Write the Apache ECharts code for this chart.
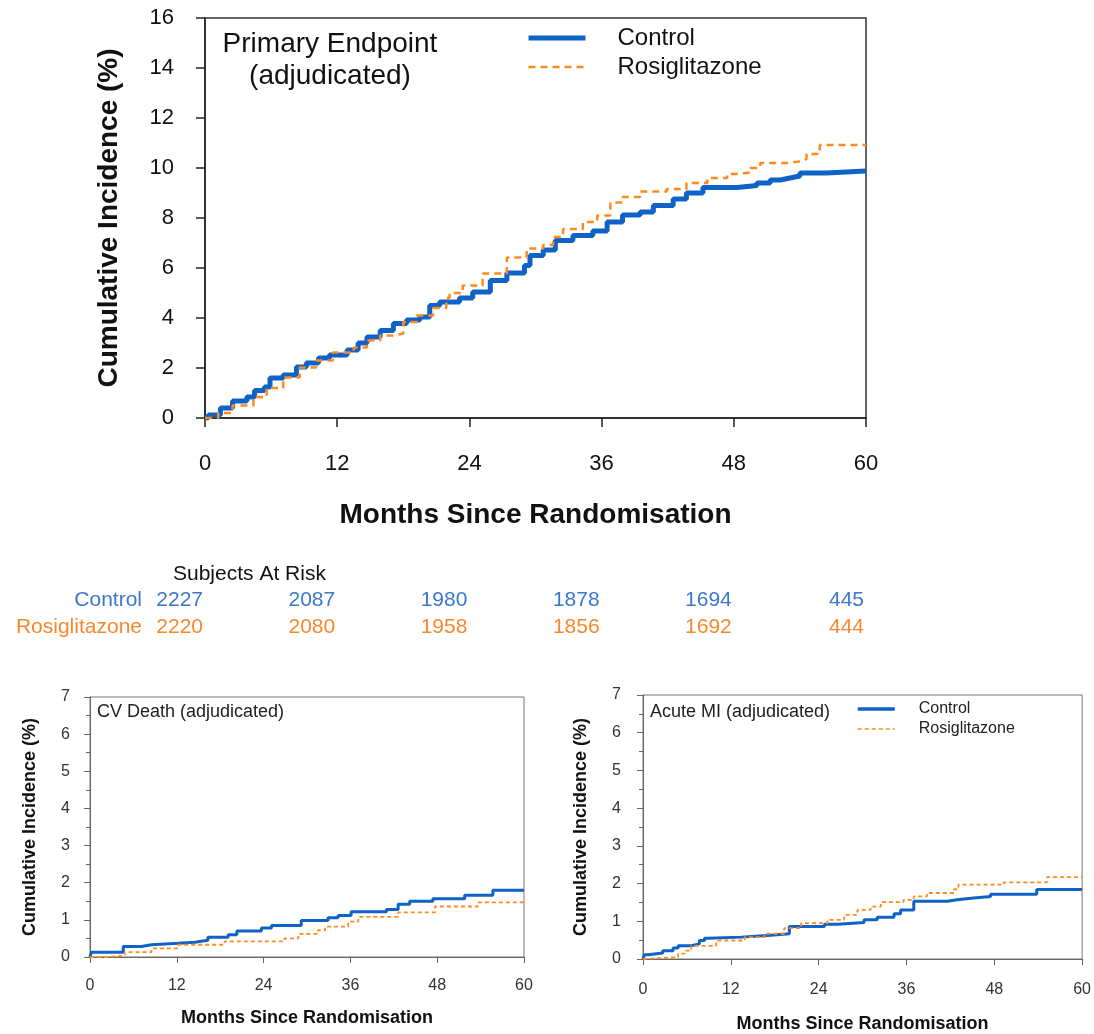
<!DOCTYPE html>
<html>
<head>
<meta charset="utf-8">
<script src="https://cdn.jsdelivr.net/npm/echarts@6/dist/echarts.min.js"></script>
<style>
  html, body { margin: 0; padding: 0; background: #fff; }
  #chart { width: 1094px; height: 1034px; }
</style>
</head>
<body>
<div id="chart"></div>
<script>
// Cumulative incidence curves (months since randomisation, % of subjects)
const monthTicks = [0, 12, 24, 36, 48, 60];

const controlPrimary = [
  [0, 0], [0.3, 0.12], [1.4, 0.4], [2.5, 0.68], [3.8, 0.84], [4.5, 1.1], [5.4, 1.24],
  [5.9, 1.6], [7.1, 1.72], [8.3, 2.04], [9.2, 2.2], [10.3, 2.4], [11.3, 2.52],
  [12.9, 2.72], [13.9, 3.0], [14.7, 3.24], [15.9, 3.5], [17.1, 3.78], [18.3, 3.92],
  [19.5, 4.04], [20.4, 4.5], [21.3, 4.64], [23.1, 4.8], [24.3, 5.04], [25.9, 5.5],
  [27.4, 5.8], [29.0, 6.1], [29.5, 6.5], [30.7, 6.72], [31.8, 7.1], [33.4, 7.3],
  [35.2, 7.48], [36.5, 7.84], [37.9, 8.12], [39.5, 8.24], [40.7, 8.5], [42.5, 8.76],
  [43.7, 9.0], [45.2, 9.22], [48.3, 9.3], [50.1, 9.4], [51.3, 9.52], [52.2, 9.6],
  [53.1, 9.68], [54.0, 9.8], [56.4, 9.88], [60, 9.88]
];
const rosiPrimary = [
  [0, 0], [1.2, 0.2], [2.5, 0.5], [4.4, 0.84], [5.6, 1.2], [7.1, 1.62], [8.6, 2.02],
  [10.1, 2.3], [11.6, 2.62], [13.5, 2.82], [14.7, 3.1], [15.9, 3.3], [17.1, 3.38],
  [18.0, 3.84], [19.2, 4.1], [20.7, 4.4], [21.9, 4.8], [22.2, 5.0], [23.4, 5.3],
  [25.2, 5.78], [27.4, 6.42], [29.2, 6.78], [30.7, 6.92], [31.6, 7.24], [32.5, 7.56],
  [34.3, 7.84], [35.6, 8.1], [36.8, 8.62], [37.9, 8.84], [39.5, 9.06], [41.9, 9.16],
  [43.7, 9.4], [45.6, 9.6], [47.4, 9.76], [48.5, 9.82], [49.5, 10.0], [50.4, 10.2],
  [52.8, 10.28], [54.3, 10.36], [54.6, 10.56], [55.6, 10.72], [55.8, 10.92], [60, 10.92]
];

const controlCVDeath = [
  [0, 0], [0.2, 0.13], [4.6, 0.28], [7.1, 0.33], [8.5, 0.37], [12.2, 0.4], [14.5, 0.45],
  [16.3, 0.53], [19.1, 0.6], [20.3, 0.7], [23.7, 0.78], [25.1, 0.85], [29.2, 0.98],
  [32.9, 1.06], [34.3, 1.12], [36.1, 1.22], [41.0, 1.28], [42.6, 1.42], [44.2, 1.5],
  [47.4, 1.57], [51.8, 1.66], [55.7, 1.8], [60, 1.8]
];
const rosiCVDeath = [
  [0, 0], [2.3, 0.04], [4.8, 0.13], [8.5, 0.23], [12.2, 0.33], [18.6, 0.42], [26.9, 0.5],
  [28.8, 0.62], [31.5, 0.72], [32.5, 0.82], [35.7, 0.95], [37.1, 1.08], [42.6, 1.2],
  [47.7, 1.36], [53.6, 1.47], [60, 1.47]
];

const controlAcuteMI = [
  [0, 0], [0.2, 0.11], [0.7, 0.16], [2.7, 0.22], [4.1, 0.29], [4.8, 0.35], [6.6, 0.4],
  [7.7, 0.49], [8.4, 0.55], [8.9, 0.58], [13.4, 0.63], [17.5, 0.67], [20.0, 0.86],
  [24.8, 0.92], [26.6, 0.97], [30.2, 1.04], [32.0, 1.11], [34.3, 1.2], [35.2, 1.3],
  [37.0, 1.53], [41.6, 1.57], [42.9, 1.62], [45.2, 1.66], [47.5, 1.72], [53.8, 1.84],
  [60, 1.84]
];
const rosiAcuteMI = [
  [0, 0], [0.2, 0.05], [4.8, 0.14], [5.7, 0.22], [6.6, 0.35], [10.0, 0.49], [13.9, 0.58],
  [16.6, 0.67], [19.3, 0.82], [21.6, 0.95], [25.2, 1.04], [27.5, 1.17], [29.3, 1.3],
  [31.1, 1.39], [32.5, 1.51], [35.6, 1.57], [37.0, 1.66], [38.8, 1.75], [42.5, 1.85],
  [43.1, 1.97], [49.3, 2.03], [55.2, 2.17], [60, 2.17]
];

// Subjects at risk below the primary endpoint panel
const atRiskLabel = 'Subjects At Risk';
const controlAtRisk = [2227, 2087, 1980, 1878, 1694, 445];
const rosiAtRisk = [2220, 2080, 1958, 1856, 1692, 444];

const FONT = '"Liberation Sans", Arial, Helvetica, sans-serif';
const BLUE = '#0f62c6';
const ORANGE = '#ff8a1e';
const TABLE_BLUE = '#3a78cc';
const TABLE_ORANGE = '#f7892c';
const NO_MARKER = { color: 'rgba(0,0,0,0)', borderWidth: 0, opacity: 0 };

const chart = echarts.init(document.getElementById('chart'));

function xAxisCfg(gridIndex, s) {
  return {
    gridIndex, type: 'value', min: 0, max: 60, interval: 12,
    axisLine: { show: true, onZero: false, lineStyle: { color: s.axis, width: s.w } },
    axisTick: { show: true, inside: false, length: s.tick, lineStyle: { color: s.axis, width: s.w } },
    axisLabel: { margin: s.xMargin, fontSize: s.label, color: s.text, fontFamily: FONT },
    splitLine: { show: false },
    name: 'Months Since Randomisation', nameLocation: 'middle', nameGap: s.xNameGap,
    nameTextStyle: { fontSize: s.name, fontWeight: 'bold', color: '#111', fontFamily: FONT }
  };
}
function yAxisCfg(gridIndex, max, interval, s) {
  return {
    gridIndex, type: 'value', min: 0, max, interval,
    axisLine: { show: true, onZero: false, lineStyle: { color: s.axis, width: s.w } },
    axisTick: { show: true, inside: false, length: s.tick, lineStyle: { color: s.axis, width: s.w } },
    minorTick: { show: !!s.minor, splitNumber: 2, length: 4, lineStyle: { color: s.axis, width: 1 } },
    axisLabel: { margin: s.yMargin, fontSize: s.label, color: s.text, fontFamily: FONT },
    splitLine: { show: false },
    name: 'Cumulative Incidence (%)', nameLocation: 'middle', nameGap: s.yNameGap, nameRotate: 90,
    nameTextStyle: { fontSize: s.name, fontWeight: 'bold', color: '#111', fontFamily: FONT }
  };
}

const mainStyle = { axis: '#222', w: 1.5, tick: 9, label: 22, text: '#111', name: 28,
  xMargin: 35, yMargin: 31, xNameGap: 83, yNameGap: 82 };
const cvStyle = { axis: '#666', w: 1, tick: 6, label: 16, text: '#333', name: 18, minor: true,
  xMargin: 21, yMargin: 20, xNameGap: 52, yNameGap: 51 };
const miStyle = Object.assign({}, cvStyle, { xNameGap: 56, yNameGap: 53, yMargin: 22, xMargin: 23 });

function curve(name, data, gi, color, width, dash, z) {
  return {
    type: 'line', name, data, xAxisIndex: gi, yAxisIndex: gi, step: 'end',
    symbol: 'none', showSymbol: false, silent: true, z,
    lineStyle: { color, width, type: dash || 'solid' }, itemStyle: { color }
  };
}

chart.setOption({
  animation: false,
  grid: [
    { left: 205, top: 18, width: 661, height: 400, show: true, borderColor: '#333', borderWidth: 1.5 },
    { left: 90, top: 697, width: 434, height: 260, show: true, borderColor: '#777', borderWidth: 1 },
    { left: 643, top: 695, width: 440, height: 264, show: true, borderColor: '#777', borderWidth: 1 }
  ],
  xAxis: [xAxisCfg(0, mainStyle), xAxisCfg(1, cvStyle), xAxisCfg(2, miStyle)],
  yAxis: [yAxisCfg(0, 16, 2, mainStyle), yAxisCfg(1, 7, 1, cvStyle), yAxisCfg(2, 7, 1, miStyle)],
  legend: [
    {
      left: 526, top: 26, padding: 0, orient: 'vertical', itemWidth: 57, itemHeight: 14, itemGap: 5,
      selectedMode: false,
      textStyle: { fontSize: 24, color: '#111', fontFamily: FONT, padding: [0, 0, 0, 27], lineHeight: 24 },
      data: [
        { name: 'Control', lineStyle: { color: BLUE, width: 5, type: 'solid' }, itemStyle: NO_MARKER },
        { name: 'Rosiglitazone', lineStyle: { color: ORANGE, width: 2.5, type: [7, 5] }, itemStyle: NO_MARKER }
      ]
    },
    {
      left: 856, top: 701, padding: 0, orient: 'vertical', itemWidth: 37, itemHeight: 10, itemGap: 4,
      selectedMode: false,
      textStyle: { fontSize: 16, color: '#222', fontFamily: FONT, padding: [0, 0, 0, 19], lineHeight: 16 },
      data: [
        { name: 'Control', lineStyle: { color: BLUE, width: 3.5, type: 'solid' }, itemStyle: NO_MARKER },
        { name: 'Rosiglitazone', lineStyle: { color: ORANGE, width: 1.5, type: [4, 3] }, itemStyle: NO_MARKER }
      ]
    }
  ],
  series: [
    curve('Control', controlPrimary, 0, BLUE, 5, null, 3),
    curve('Rosiglitazone', rosiPrimary, 0, ORANGE, 2.5, [7, 5], 4),
    curve('Control', controlCVDeath, 1, BLUE, 3, null, 3),
    curve('Rosiglitazone', rosiCVDeath, 1, ORANGE, 1.8, [4, 3], 4),
    curve('Control', controlAcuteMI, 2, BLUE, 3, null, 3),
    curve('Rosiglitazone', rosiAcuteMI, 2, ORANGE, 1.8, [4, 3], 4)
  ]
});

// Panel captions and the at-risk table, placed from the primary panel's x scale
const tickX = monthTicks.map(m => chart.convertToPixel({ xAxisIndex: 0 }, m));
const labelStyle = (text, x, y, size, color, align) => ({
  type: 'text', x, y, silent: true,
  style: { text, fontSize: size, fill: color, fontFamily: FONT, align: align || 'left', verticalAlign: 'middle' }
});

const graphics = [
  labelStyle('Primary Endpoint', 330, 44, 28, '#111', 'center'),
  labelStyle('(adjudicated)', 330, 76, 28, '#111', 'center'),
  labelStyle('CV Death (adjudicated)', 97, 712, 18, '#222'),
  labelStyle('Acute MI (adjudicated)', 650, 712, 18, '#222'),
  labelStyle(atRiskLabel, 173, 574, 21, '#111'),
  labelStyle('Control', 142, 600, 21, TABLE_BLUE, 'right'),
  labelStyle('Rosiglitazone', 142, 627, 21, TABLE_ORANGE, 'right')
];
controlAtRisk.forEach((n, i) => graphics.push(labelStyle(String(n), tickX[i] - 2, 600, 21, TABLE_BLUE, 'right')));
rosiAtRisk.forEach((n, i) => graphics.push(labelStyle(String(n), tickX[i] - 2, 627, 21, TABLE_ORANGE, 'right')));

chart.setOption({ graphic: graphics });
</script>
</body>
</html>
